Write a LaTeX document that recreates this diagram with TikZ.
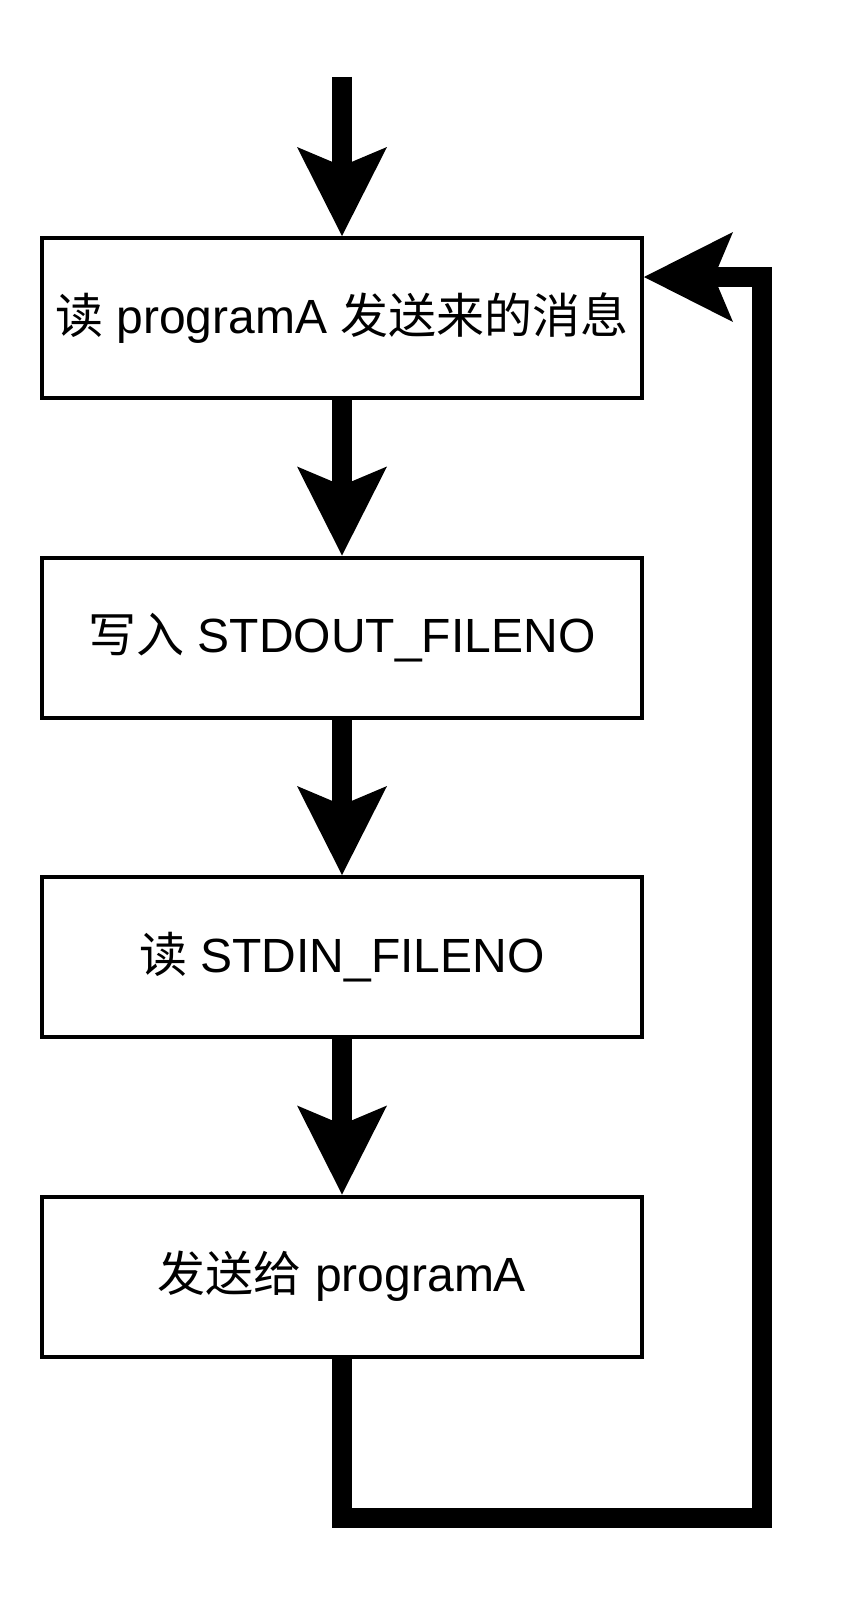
\documentclass[tikz,border=0pt]{standalone}
\usepackage{fontspec}
\setmainfont{Liberation Sans}
\newfontfamily\cjk{Noto Sans CJK SC}
\usetikzlibrary{arrows.meta}
\begin{document}
\begin{tikzpicture}[x=1pt,y=-1pt,
  stepbox/.style={draw=black,line width=4pt,minimum width=600pt,minimum height=160pt,inner sep=0pt,
    font=\fontsize{48}{58}\selectfont},
  arr/.style={line width=20pt,-{Stealth[length=89pt,width=90pt,inset=19pt,line width=0pt]}}]
\path[use as bounding box] (0,0) rectangle (844,1600);
\node[stepbox] (n1) at (342,318) {{\cjk 读} programA {\cjk 发送来的消息}};
\node[stepbox] (n2) at (342,637.5) {{\cjk 写入} STDOUT\_FILENO};
\node[stepbox] (n3) at (342,957) {{\cjk 读} STDIN\_FILENO};
\node[stepbox] (n4) at (342,1276.5) {{\cjk 发送给} programA};
\coordinate (s) at (342,77);
\coordinate (c1) at (762,1518);
\coordinate (c2) at (762,277);
\draw[arr] (s) -- (n1.north);
\draw[arr] (n1.south) -- (n2.north);
\draw[arr] (n2.south) -- (n3.north);
\draw[arr] (n3.south) -- (n4.north);
\draw[arr] (n4.south) -- (n4.south |- c1) -- (c1) -- (c2) -- (c2 -| n1.east);
\end{tikzpicture}
\end{document}
